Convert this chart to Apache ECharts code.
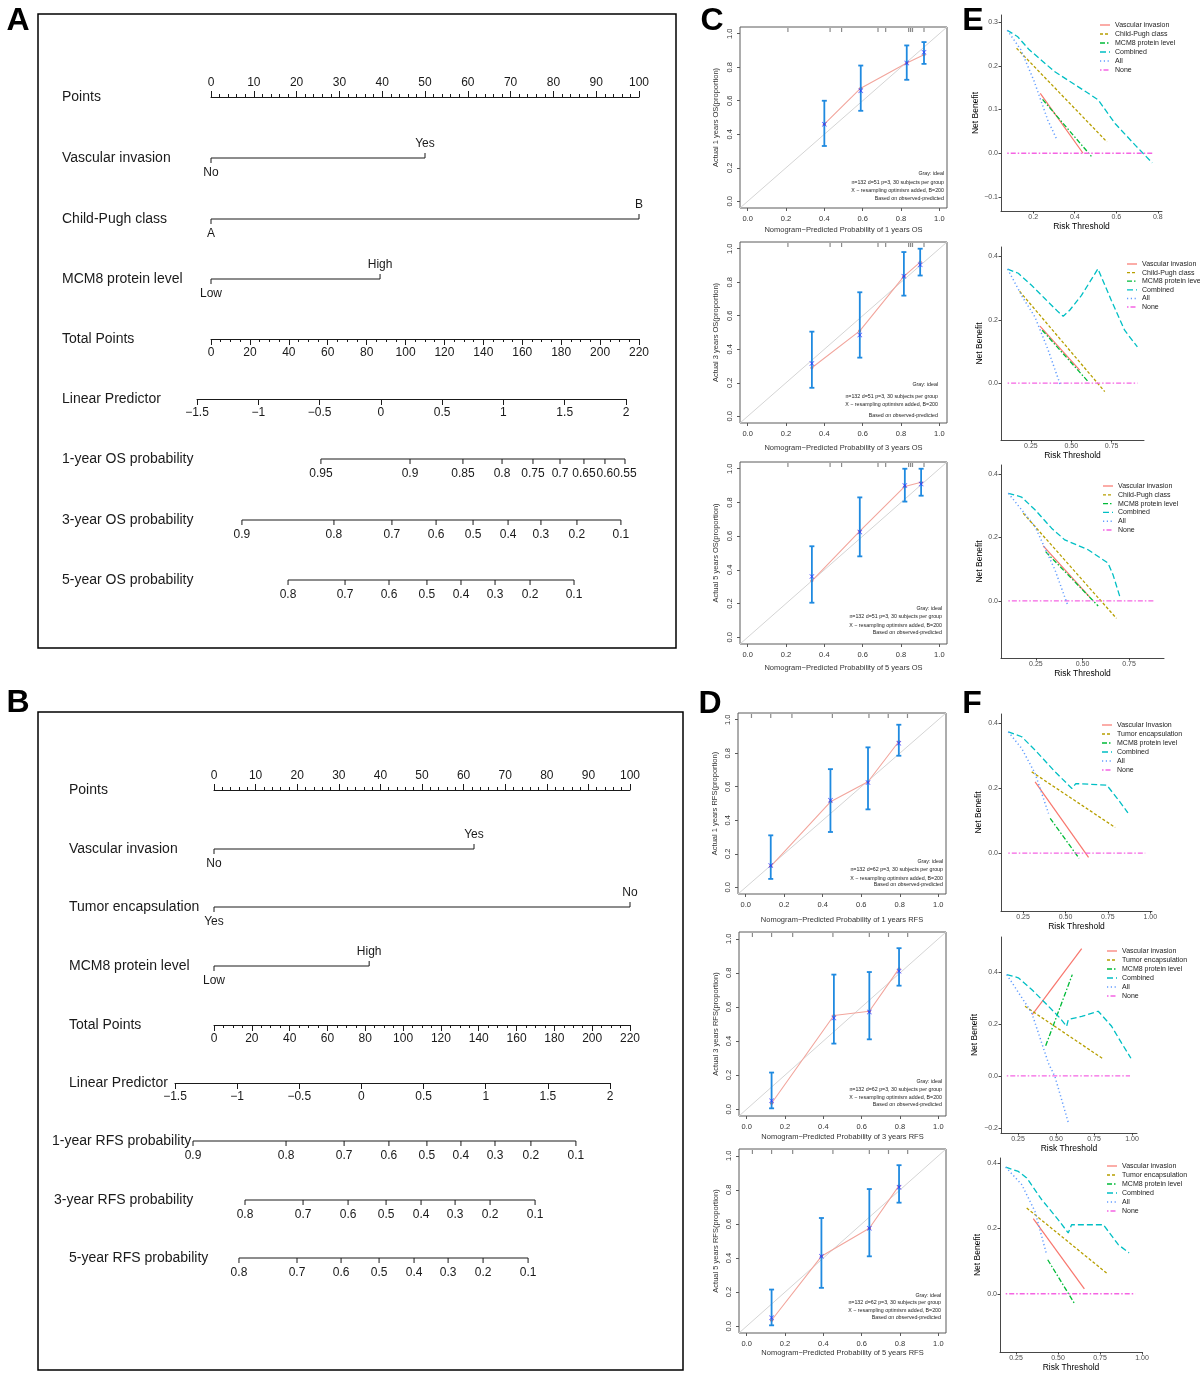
<!DOCTYPE html>
<html><head><meta charset="utf-8">
<script src="https://cdn.jsdelivr.net/npm/echarts@6/dist/echarts.min.js"></script>
<style>html,body{margin:0;padding:0;background:#fff}#c{width:1200px;height:1375px}</style>
</head><body><div id="c"></div>
<script>
// ================= DATA =================
// --- Nomogram scales ---
const POINTS_SCALE = [0, 100, 10];
const TOTAL_SCALE = [0, 220, 20];
const LP_SCALE = [-1.5, 2, 0.5];

// --- Panel A (OS nomogram) ---
const A_ROWS = ['Points','Vascular invasion','Child-Pugh class','MCM8 protein level','Total Points','Linear Predictor','1-year OS probability','3-year OS probability','5-year OS probability'];
const A_VASC_LEVELS = ['No','Yes'];
const A_VASC_POINTS = [0, 50];
const A_CHILD_LEVELS = ['A','B'];
const A_CHILD_POINTS = [0, 100];
const A_MCM8_LEVELS = ['Low','High'];
const A_MCM8_POINTS = [0, 39.5];
const A_OS1_LABELS = ['0.95','0.9','0.85','0.8','0.75','0.7','0.65','0.6','0.55'];
const A_OS1_TOTAL = [56.5, 102.3, 129.5, 149.6, 165.5, 179.4, 191.7, 202.5, 212.8];
const A_OS3_LABELS = ['0.9','0.8','0.7','0.6','0.5','0.4','0.3','0.2','0.1'];
const A_OS3_TOTAL = [15.9, 63.2, 93.0, 115.7, 134.7, 152.7, 169.6, 188.1, 210.7];
const A_OS5_LABELS = ['0.8','0.7','0.6','0.5','0.4','0.3','0.2','0.1'];
const A_OS5_TOTAL = [39.6, 68.9, 91.5, 111.0, 128.5, 146.0, 164.0, 186.6];

// --- Panel B (RFS nomogram) ---
const B_ROWS = ['Points','Vascular invasion','Tumor encapsulation','MCM8 protein level','Total Points','Linear Predictor','1-year RFS probability','3-year RFS probability','5-year RFS probability'];
const B_VASC_LEVELS = ['No','Yes'];
const B_VASC_POINTS = [0, 62.5];
const B_TUMOR_LEVELS = ['Yes','No'];
const B_TUMOR_POINTS = [0, 100];
const B_MCM8_LEVELS = ['Low','High'];
const B_MCM8_POINTS = [0, 37.3];
const B_RFS1_LABELS = ['0.9','0.8','0.7','0.6','0.5','0.4','0.3','0.2','0.1'];
const B_RFS1_TOTAL = [-11.1, 38.1, 68.8, 92.5, 112.6, 130.6, 148.6, 167.6, 191.4];
const B_RFS3_LABELS = ['0.8','0.7','0.6','0.5','0.4','0.3','0.2','0.1'];
const B_RFS3_TOTAL = [16.4, 47.1, 70.9, 91.0, 109.5, 127.5, 146.0, 169.8];
const B_RFS5_LABELS = ['0.8','0.7','0.6','0.5','0.4','0.3','0.2','0.1'];
const B_RFS5_TOTAL = [13.2, 43.9, 67.2, 87.3, 105.8, 123.8, 142.3, 166.1];

// --- Calibration curves (C: OS, D: RFS) ---
const CAL_TICKS = [0, 0.2, 0.4, 0.6, 0.8, 1.0];
const CAL_RANGE = [-0.04, 1.04];
const C1_PRED = [0.40, 0.59, 0.83, 0.92];
const C1_OBS  = [0.46, 0.675, 0.825, 0.875];
const C1_CORR = [0.46, 0.66, 0.825, 0.89];
const C1_LO   = [0.33, 0.54, 0.725, 0.82];
const C1_HI   = [0.60, 0.81, 0.93, 0.95];
const C2_PRED = [0.335, 0.585, 0.815, 0.90];
const C2_OBS  = [0.29, 0.51, 0.835, 0.92];
const C2_CORR = [0.315, 0.485, 0.835, 0.905];
const C2_LO   = [0.17, 0.35, 0.72, 0.84];
const C2_HI   = [0.505, 0.74, 0.98, 1.0];
const C3_PRED = [0.335, 0.585, 0.82, 0.905];
const C3_OBS  = [0.335, 0.63, 0.895, 0.92];
const C3_CORR = [0.36, 0.625, 0.90, 0.91];
const C3_LO   = [0.205, 0.48, 0.805, 0.84];
const C3_HI   = [0.54, 0.83, 1.0, 1.0];
const C_RUG = [0.21, 0.43, 0.49, 0.68, 0.72, 0.84, 0.85, 0.86, 0.92];
const D1_PRED = [0.13, 0.44, 0.635, 0.795];
const D1_OBS  = [0.125, 0.51, 0.63, 0.87];
const D1_CORR = [0.13, 0.52, 0.625, 0.86];
const D1_LO   = [0.05, 0.33, 0.465, 0.785];
const D1_HI   = [0.31, 0.705, 0.835, 0.97];
const D2_PRED = [0.13, 0.455, 0.64, 0.795];
const D2_OBS  = [0.035, 0.55, 0.575, 0.825];
const D2_CORR = [0.05, 0.535, 0.57, 0.81];
const D2_LO   = [0.005, 0.385, 0.41, 0.725];
const D2_HI   = [0.215, 0.79, 0.805, 0.945];
const D3_PRED = [0.13, 0.39, 0.64, 0.795];
const D3_OBS  = [0.035, 0.41, 0.575, 0.825];
const D3_CORR = [0.05, 0.41, 0.575, 0.815];
const D3_LO   = [0.005, 0.225, 0.41, 0.725];
const D3_HI   = [0.215, 0.635, 0.805, 0.945];
const D_RUG = [0.03, 0.13, 0.24, 0.45, 0.64, 0.74, 0.84];
const C_CAPTION = ['Gray: ideal', 'n=132 d=51 p=3, 30 subjects per group', 'X \u2212 resampling optimism added, B=200', 'Based on observed-predicted'];
const D_CAPTION = ['Gray: ideal', 'n=132 d=62 p=3, 30 subjects per group', 'X \u2212 resampling optimism added, B=200', 'Based on observed-predicted'];
const CAL_XNAMES = ['Nomogram\u2212Predicted Probability of 1 years OS','Nomogram\u2212Predicted Probability of 3 years OS','Nomogram\u2212Predicted Probability of 5 years OS','Nomogram\u2212Predicted Probability of 1 years RFS','Nomogram\u2212Predicted Probability of 3 years RFS','Nomogram\u2212Predicted Probability of 5 years RFS'];
const CAL_YNAMES = ['Actual 1 years OS(proportion)','Actual 3 years OS(proportion)','Actual 5 years OS(proportion)','Actual 1 years RFS(proportion)','Actual 3 years RFS(proportion)','Actual 5 years RFS(proportion)'];

// --- Decision curves (E: OS, F: RFS) ---
const E_NAMES = ['Vascular invasion','Child-Pugh class','MCM8 protein level','Combined','All','None'];
const F1_NAMES = ['Vascular Invasion','Tumor encapsulation','MCM8 protein level','Combined','All','None'];
const F_NAMES = ['Vascular invasion','Tumor encapsulation','MCM8 protein level','Combined','All','None'];

const E1_VASC = [[0.234,0.137],[0.44,0.0]];
const E1_CHILD = [[0.12,0.24],[0.555,0.026]];
const E1_MCM8 = [[0.245,0.123],[0.48,-0.007]];
const E1_COMB = [[0.075,0.281],[0.124,0.267],[0.18,0.237],[0.302,0.187],[0.465,0.137],[0.513,0.122],[0.594,0.068],[0.692,0.018],[0.773,-0.022]];
const E1_ALL = [[0.075,0.281],[0.14,0.237],[0.205,0.164],[0.27,0.076],[0.315,0.03]];
const E1_NONE = [[0.075,0],[0.78,0]];

const E2_VASC = [[0.306,0.18],[0.552,0.041]];
const E2_CHILD = [[0.18,0.29],[0.707,-0.027]];
const E2_MCM8 = [[0.32,0.167],[0.6,0.007]];
const E2_COMB = [[0.106,0.36],[0.172,0.347],[0.254,0.309],[0.336,0.267],[0.419,0.225],[0.45,0.211],[0.49,0.23],[0.563,0.277],[0.665,0.361],[0.748,0.261],[0.83,0.167],[0.909,0.114]];
const E2_ALL = [[0.106,0.36],[0.2,0.27],[0.275,0.209],[0.357,0.104],[0.435,-0.01]];
const E2_NONE = [[0.106,0],[0.91,0]];

const E3_VASC = [[0.289,0.173],[0.539,0.012]];
const E3_CHILD = [[0.182,0.276],[0.682,-0.055]];
const E3_MCM8 = [[0.302,0.155],[0.584,-0.016]];
const E3_COMB = [[0.102,0.339],[0.173,0.327],[0.245,0.287],[0.334,0.229],[0.405,0.192],[0.53,0.161],[0.637,0.119],[0.664,0.082],[0.70,0.014]];
const E3_ALL = [[0.102,0.339],[0.245,0.234],[0.352,0.098],[0.42,-0.013]];
const E3_NONE = [[0.102,0],[0.887,0]];

const F1_VASC = [[0.321,0.219],[0.636,-0.013]];
const F1_TUMOR = [[0.301,0.25],[0.793,0.079]];
const F1_MCM8 = [[0.41,0.107],[0.58,-0.016]];
const F1_COMB = [[0.163,0.373],[0.242,0.358],[0.321,0.317],[0.439,0.25],[0.538,0.199],[0.561,0.214],[0.636,0.212],[0.744,0.209],[0.813,0.163],[0.868,0.124]];
const F1_ALL = [[0.163,0.373],[0.242,0.322],[0.321,0.245],[0.40,0.122]];
const F1_NONE = [[0.163,0],[0.97,0]];

const F2_VASC = [[0.344,0.236],[0.669,0.49]];
const F2_TUMOR = [[0.296,0.268],[0.811,0.065]];
const F2_MCM8 = [[0.432,0.116],[0.607,0.39]];
const F2_COMB = [[0.176,0.39],[0.252,0.378],[0.34,0.333],[0.439,0.275],[0.526,0.223],[0.57,0.191],[0.581,0.217],[0.669,0.229],[0.778,0.249],[0.866,0.191],[0.932,0.126],[0.993,0.068]];
const F2_ALL = [[0.176,0.39],[0.34,0.243],[0.45,0.049],[0.493,-0.003],[0.581,-0.18]];
const F2_NONE = [[0.176,0],[0.987,0]];

const F3_VASC = [[0.353,0.23],[0.657,0.015]];
const F3_TUMOR = [[0.314,0.262],[0.79,0.063]];
const F3_MCM8 = [[0.439,0.104],[0.601,-0.032]];
const F3_COMB = [[0.189,0.387],[0.264,0.374],[0.314,0.354],[0.403,0.288],[0.502,0.226],[0.561,0.186],[0.581,0.211],[0.77,0.211],[0.859,0.15],[0.923,0.125]];
const F3_ALL = [[0.189,0.387],[0.284,0.334],[0.363,0.252],[0.433,0.119]];
const F3_NONE = [[0.189,0],[0.96,0]];

// ================= BUILD =================
const FONT = '"Liberation Sans", Arial, Helvetica, sans-serif';
const INK = '#1a1a1a';
const option = {animation:false, backgroundColor:'#ffffff', textStyle:{fontFamily:FONT},
  grid:[], xAxis:[], yAxis:[], series:[], graphic:[]};
function addGrid(g){ option.grid.push(Object.assign({containLabel:false, outerBoundsMode:'none'}, g)); return option.grid.length-1; }
function addX(a){ option.xAxis.push(a); return option.xAxis.length-1; }
function addY(a){ option.yAxis.push(a); return option.yAxis.length-1; }
function signed(v){ return v < 0 ? '\u2212' + Math.abs(v) : String(v); }
function text(x, y, str, st){ option.graphic.push({type:'text', x:x, y:y, silent:true, z:50,
  style:Object.assign({text:str, fontFamily:FONT, fill:INK}, st)}); }

// ---------- Nomograms ----------
function nomoAxis(gi, pos, scale, minorSplit){
  return {gridIndex:gi, type:'value', position:pos, min:scale[0], max:scale[1], interval:scale[2],
    axisLine:{show:true, onZero:false, lineStyle:{color:INK, width:1}},
    axisTick:{show:true, length:6, lineStyle:{color:INK, width:1}},
    minorTick:{show:minorSplit>0, splitNumber:minorSplit||5, length:3, lineStyle:{color:INK, width:1}},
    splitLine:{show:false}, minorSplitLine:{show:false},
    axisLabel:{show:true, fontSize:12, color:INK, margin:8, fontFamily:FONT, formatter:signed, showMinLabel:true, showMaxLabel:true}};
}
function rowSeries(xi, yi, rowY, positions, labels, sides){
  return {type:'custom', xAxisIndex:xi, yAxisIndex:yi, clip:false, silent:true, data:[[positions[0], 0]],
    renderItem:function(params, api){
      const xs = positions.map(function(p){ return api.coord([p, 0])[0]; });
      const ch = [{type:'line', shape:{x1:Math.min.apply(null, xs), y1:rowY, x2:Math.max.apply(null, xs), y2:rowY}, style:{stroke:INK, lineWidth:1}}];
      xs.forEach(function(x, i){
        const up = sides[i] === 'above';
        ch.push({type:'line', shape:{x1:x, y1:rowY, x2:x, y2: up ? rowY-5 : rowY+5}, style:{stroke:INK, lineWidth:1}});
        ch.push({type:'text', x:x, y: up ? rowY-14 : rowY+15, style:{text:labels[i], fontSize:12, fill:INK, fontFamily:FONT, align:'center', verticalAlign:'middle'}});
      });
      return {type:'group', children:ch};
    }};
}
function buildNomogram(L, rowNames, catRows, probRows){
  rowNames.forEach(function(n, i){ text(L.labelX[i], L.rowY[i], n, {fontSize:14, verticalAlign:'middle', align:'left'}); });
  const g0 = addGrid({left:L.x0, top:L.rowY[0], width:L.x1-L.x0, height:1});
  addX(nomoAxis(g0, 'top', POINTS_SCALE, 5)); addY({gridIndex:g0, type:'value', show:false, min:0, max:1});
  const g1 = addGrid({left:L.x0, top:L.rowY[4]-1, width:L.x1-L.x0, height:1});
  addX(nomoAxis(g1, 'bottom', TOTAL_SCALE, 4)); addY({gridIndex:g1, type:'value', show:false, min:0, max:1});
  const g2 = addGrid({left:L.lp0, top:L.rowY[5]-1, width:L.lp1-L.lp0, height:1});
  addX(nomoAxis(g2, 'bottom', LP_SCALE, 0)); addY({gridIndex:g2, type:'value', show:false, min:0, max:1});
  const gb = addGrid({left:L.x0, top:L.rowY[0], width:L.x1-L.x0, height:L.rowY[8]-L.rowY[0]});
  const xp = addX({gridIndex:gb, type:'value', show:false, min:POINTS_SCALE[0], max:POINTS_SCALE[1]});
  const xt = addX({gridIndex:gb, type:'value', show:false, min:TOTAL_SCALE[0], max:TOTAL_SCALE[1]});
  const yb = addY({gridIndex:gb, type:'value', show:false, min:0, max:1});
  catRows.forEach(function(r, k){ option.series.push(rowSeries(xp, yb, L.rowY[1+k], r.points, r.levels, ['below','above'])); });
  probRows.forEach(function(r, k){ option.series.push(rowSeries(xt, yb, L.rowY[6+k], r.total, r.labels, r.labels.map(function(){return 'below';}))); });
}
buildNomogram({x0:211, x1:639, lp0:197, lp1:626, rowY:[97,158,219,279,339,399,459,520,580], labelX:[62,62,62,62,62,62,62,62,62]},
  A_ROWS,
  [{levels:A_VASC_LEVELS, points:A_VASC_POINTS},{levels:A_CHILD_LEVELS, points:A_CHILD_POINTS},{levels:A_MCM8_LEVELS, points:A_MCM8_POINTS}],
  [{labels:A_OS1_LABELS, total:A_OS1_TOTAL},{labels:A_OS3_LABELS, total:A_OS3_TOTAL},{labels:A_OS5_LABELS, total:A_OS5_TOTAL}]);
buildNomogram({x0:214, x1:630, lp0:175, lp1:610, rowY:[790,849,907,966,1025,1083,1141,1200,1258], labelX:[69,69,69,69,69,69,52,54,69]},
  B_ROWS,
  [{levels:B_VASC_LEVELS, points:B_VASC_POINTS},{levels:B_TUMOR_LEVELS, points:B_TUMOR_POINTS},{levels:B_MCM8_LEVELS, points:B_MCM8_POINTS}],
  [{labels:B_RFS1_LABELS, total:B_RFS1_TOTAL},{labels:B_RFS3_LABELS, total:B_RFS3_TOTAL},{labels:B_RFS5_LABELS, total:B_RFS5_TOTAL}]);

// ---------- Calibration plots ----------
const XMARK = 'path://M0,1L1,0L5,4L9,0L10,1L6,5L10,9L9,10L5,6L1,10L0,9L4,5Z';
function buildCal(L, k, d){
  const gi = addGrid({left:L.left, top:L.top, width:L.width, height:L.height, show:true, borderColor:'#5a5a5a', borderWidth:1, backgroundColor:'rgba(0,0,0,0)'});
  const axisCommon = {type:'value', min:CAL_RANGE[0], max:CAL_RANGE[1],
    axisLine:{show:false, onZero:false},
    axisTick:{show:true, customValues:CAL_TICKS, length:3, lineStyle:{color:'#5a5a5a', width:1}},
    splitLine:{show:false}, nameLocation:'middle', nameTextStyle:{fontSize:7.5, color:'#333', fontFamily:FONT}};
  const xi = addX(Object.assign({gridIndex:gi, name:CAL_XNAMES[k], nameGap:L.xGap,
    axisLabel:{customValues:CAL_TICKS, formatter:function(v){return v.toFixed(1);}, fontSize:7.5, color:'#333', margin:7}}, axisCommon));
  const yi = addY(Object.assign({gridIndex:gi, name:CAL_YNAMES[k], nameGap:L.yGap, nameRotate:90,
    axisLabel:{customValues:CAL_TICKS, formatter:function(v){return v.toFixed(1);}, fontSize:7.5, color:'#333', margin:6, rotate:90}}, axisCommon));
  const base = {xAxisIndex:xi, yAxisIndex:yi, silent:true};
  option.series.push(Object.assign({type:'line', data:CAL_RANGE.map(function(v){return [v, v];}), symbol:'none', lineStyle:{color:'#d4d4d4', width:1}, z:1}, base));
  option.series.push(Object.assign({type:'custom', clip:false, data:d.rug.map(function(v){return [v, CAL_RANGE[1]];}), z:2,
    renderItem:function(p, api){ const c = api.coord([api.value(0), CAL_RANGE[1]]);
      return {type:'line', shape:{x1:c[0], y1:c[1]+1, x2:c[0], y2:c[1]+5}, style:{stroke:'#8a8a8a', lineWidth:1.2}}; }}, base));
  option.series.push(Object.assign({type:'line', data:d.pred.map(function(x, i){return [x, d.obs[i]];}), symbol:'circle', symbolSize:3,
    itemStyle:{color:'#e06666'}, lineStyle:{color:'#f2a59c', width:1.1}, z:3}, base));
  option.series.push(Object.assign({type:'custom', clip:false, data:d.pred.map(function(x, i){return [x, d.lo[i], d.hi[i]];}), z:4,
    renderItem:function(p, api){ const a = api.coord([api.value(0), api.value(1)]), b = api.coord([api.value(0), api.value(2)]);
      const st = {stroke:'#1f8ae0', lineWidth:1.8}, cap = 2.5;
      return {type:'group', children:[
        {type:'line', shape:{x1:a[0], y1:a[1], x2:b[0], y2:b[1]}, style:st},
        {type:'line', shape:{x1:a[0]-cap, y1:a[1], x2:a[0]+cap, y2:a[1]}, style:st},
        {type:'line', shape:{x1:b[0]-cap, y1:b[1], x2:b[0]+cap, y2:b[1]}, style:st}]}; }}, base));
  option.series.push(Object.assign({type:'scatter', data:d.pred.map(function(x, i){return [x, d.corr[i]];}), symbol:XMARK, symbolSize:5,
    itemStyle:{color:'#2b2bff'}, z:5}, base));
  d.caption.forEach(function(s, i){ text(L.capRight, L.capY[i], s, {fontSize:5.3, align:'right', verticalAlign:'middle', fill:'#222'}); });
}
const CAL_LAYOUT = [
  {left:740, top:27, width:207, height:181, xGap:18, yGap:20, capRight:944, capY:[174,183,191,199]},
  {left:740, top:242, width:207, height:181, xGap:21, yGap:20, capRight:938, capY:[385,397,405,416]},
  {left:740, top:462, width:207, height:182, xGap:20, yGap:20, capRight:942, capY:[609,617,626,633]},
  {left:738, top:713, width:208, height:181, xGap:22, yGap:19, capRight:943, capY:[862,870,879,885]},
  {left:739, top:932, width:207, height:184, xGap:17, yGap:19, capRight:942, capY:[1082,1090,1098,1105]},
  {left:739, top:1149, width:207, height:184, xGap:15, yGap:19, capRight:941, capY:[1296,1303,1311,1318]}];
const CAL_DATA = [
  {pred:C1_PRED, obs:C1_OBS, corr:C1_CORR, lo:C1_LO, hi:C1_HI, rug:C_RUG, caption:C_CAPTION},
  {pred:C2_PRED, obs:C2_OBS, corr:C2_CORR, lo:C2_LO, hi:C2_HI, rug:C_RUG, caption:C_CAPTION},
  {pred:C3_PRED, obs:C3_OBS, corr:C3_CORR, lo:C3_LO, hi:C3_HI, rug:C_RUG, caption:C_CAPTION},
  {pred:D1_PRED, obs:D1_OBS, corr:D1_CORR, lo:D1_LO, hi:D1_HI, rug:D_RUG, caption:D_CAPTION},
  {pred:D2_PRED, obs:D2_OBS, corr:D2_CORR, lo:D2_LO, hi:D2_HI, rug:D_RUG, caption:D_CAPTION},
  {pred:D3_PRED, obs:D3_OBS, corr:D3_CORR, lo:D3_LO, hi:D3_HI, rug:D_RUG, caption:D_CAPTION}];
CAL_DATA.forEach(function(d, k){ buildCal(CAL_LAYOUT[k], k, d); });

// ---------- Decision curves ----------
const DCA_STYLE = [
  {color:'#F8766D', type:'solid', width:1.2},
  {color:'#B79F00', type:[3,2], width:1.3},
  {color:'#00BA38', type:[5,2,1.5,2], width:1.3},
  {color:'#00BFC4', type:[6,3], width:1.3},
  {color:'#619CFF', type:[1.2,2.6], width:1.5},
  {color:'#F564E3', type:[1.5,2,5,2], width:1.3}];
function buildDca(P, names, curves){
  const gi = addGrid({left:P.left, top:P.top, width:P.width, height:P.height});
  const ax = {type:'value', axisLine:{show:true, onZero:false, lineStyle:{color:'#333', width:0.9}}, splitLine:{show:false},
    nameLocation:'middle', nameTextStyle:{fontSize:8.5, color:'#000', fontFamily:FONT}};
  const xi = addX(Object.assign({gridIndex:gi, min:P.xr[0], max:P.xr[1], name:'Risk Threshold', nameGap:P.xGap,
    axisTick:{show:true, customValues:P.xt, length:2.5, lineStyle:{color:'#333', width:0.9}},
    axisLabel:{customValues:P.xt, formatter:function(v){return v.toFixed(P.xd);}, fontSize:7, color:'#4D4D4D', margin:3}}, ax));
  const yi = addY(Object.assign({gridIndex:gi, min:P.yr[0], max:P.yr[1], name:'Net Benefit', nameGap:P.yGap, nameRotate:90,
    axisTick:{show:true, customValues:P.yt, length:2.5, lineStyle:{color:'#333', width:0.9}},
    axisLabel:{customValues:P.yt, formatter:function(v){return (v < 0 ? '\u2212' : '') + Math.abs(v).toFixed(1);}, fontSize:7, color:'#4D4D4D', margin:3}}, ax));
  curves.forEach(function(c, k){
    const s = DCA_STYLE[k];
    option.series.push({type:'line', name:names[k], xAxisIndex:xi, yAxisIndex:yi, data:c, symbol:'none', silent:true, clip:false,
      itemStyle:{color:s.color}, lineStyle:{color:s.color, type:s.type, width:s.width}, z:3+ (k===4?2:0)});
  });
  // legend keys (ggplot style: line sample + label)
  names.forEach(function(n, k){
    const s = DCA_STYLE[k], y = P.lg[1] + k * P.lg[2];
    option.graphic.push({type:'line', silent:true, z:50, shape:{x1:P.lg[0], y1:y, x2:P.lg[0]+10, y2:y},
      style:{stroke:s.color, lineWidth:s.width, lineDash: s.type === 'solid' ? null : s.type}});
    text(P.lg[0] + 15, y, n, {fontSize:7, fill:'#222', align:'left', verticalAlign:'middle'});
  });
}
buildDca({left:1001, top:15, width:161, height:196, xr:[0.045,0.82], yr:[-0.132,0.316], xt:[0.2,0.4,0.6,0.8], xd:1, yt:[-0.1,0,0.1,0.2,0.3], xGap:11, yGap:19, lg:[1100,25,9]},
  E_NAMES, [E1_VASC, E1_CHILD, E1_MCM8, E1_COMB, E1_ALL, E1_NONE]);
buildDca({left:1001, top:247, width:143, height:193, xr:[0.065,0.95], yr:[-0.18,0.43], xt:[0.25,0.5,0.75], xd:2, yt:[0,0.2,0.4], xGap:9, yGap:14, lg:[1127,264,8.6]},
  E_NAMES, [E2_VASC, E2_CHILD, E2_MCM8, E2_COMB, E2_ALL, E2_NONE]);
buildDca({left:1001, top:465, width:163, height:193, xr:[0.0625,0.9375], yr:[-0.18,0.428], xt:[0.25,0.5,0.75], xd:2, yt:[0,0.2,0.4], xGap:10, yGap:17, lg:[1103,486,8.8]},
  E_NAMES, [E3_VASC, E3_CHILD, E3_MCM8, E3_COMB, E3_ALL, E3_NONE]);
buildDca({left:1001, top:714, width:151, height:197, xr:[0.12,1.01], yr:[-0.178,0.428], xt:[0.25,0.5,0.75,1.0], xd:2, yt:[0,0.2,0.4], xGap:11, yGap:18, lg:[1102,725,9]},
  F1_NAMES, [F1_VASC, F1_TUMOR, F1_MCM8, F1_COMB, F1_ALL, F1_NONE]);
buildDca({left:1001, top:937, width:136, height:196, xr:[0.138,1.033], yr:[-0.22,0.535], xt:[0.25,0.5,0.75,1.0], xd:2, yt:[-0.2,0,0.2,0.4], xGap:11, yGap:22, lg:[1107,951,9]},
  F_NAMES, [F2_VASC, F2_TUMOR, F2_MCM8, F2_COMB, F2_ALL, F2_NONE]);
buildDca({left:1000, top:1158, width:142, height:194, xr:[0.155,1.0], yr:[-0.178,0.415], xt:[0.25,0.5,0.75,1.0], xd:2, yt:[0,0.2,0.4], xGap:11, yGap:18, lg:[1107,1166,9]},
  F_NAMES, [F3_VASC, F3_TUMOR, F3_MCM8, F3_COMB, F3_ALL, F3_NONE]);

// ---------- Panel frames and letters ----------
option.graphic.push({type:'rect', silent:true, shape:{x:38, y:14, width:638, height:634}, style:{fill:'none', stroke:'#000', lineWidth:1.5}});
option.graphic.push({type:'rect', silent:true, shape:{x:38, y:712, width:645, height:658}, style:{fill:'none', stroke:'#000', lineWidth:1.5}});
[['A',18,21],['B',18,703],['C',712,21],['D',710,704],['E',973,21],['F',972,704]].forEach(function(t){
  text(t[1], t[2], t[0], {fontSize:32, fontWeight:'bold', fill:'#000', align:'center', verticalAlign:'middle'});
});

const chart = echarts.init(document.getElementById('c'), null, {renderer:'canvas'});
chart.setOption(option);
</script></body></html>
